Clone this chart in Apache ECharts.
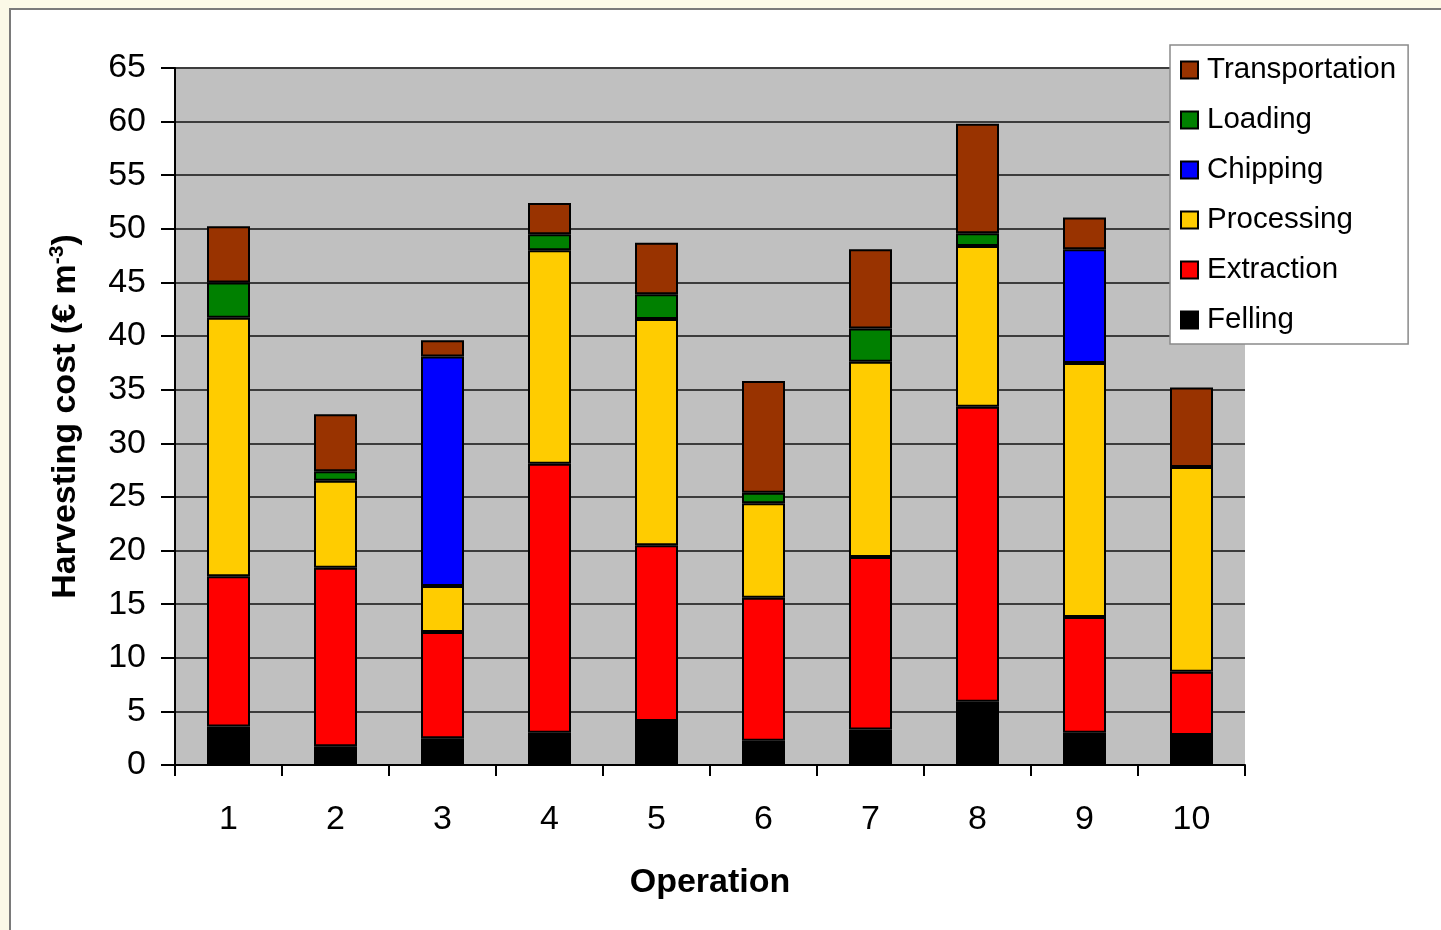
<!DOCTYPE html>
<html>
<head>
<meta charset="utf-8">
<script src="https://cdn.jsdelivr.net/npm/echarts@6/dist/echarts.min.js"></script>
<style>
  html, body { margin: 0; padding: 0; background: #fbf9e7; }
  #chart { width: 1441px; height: 930px; }
</style>
</head>
<body>
<div id="chart"></div>
<script>
// Harvesting cost per operation, stacked by work phase (€ per m³)
const operations = ['1', '2', '3', '4', '5', '6', '7', '8', '9', '10'];
const felling        = [3.6, 1.75, 2.5, 3.0, 4.1, 2.25, 3.3, 5.9, 3.0, 2.8];
const extraction     = [14.0, 16.65, 9.9, 25.1, 16.4, 13.35, 16.1, 27.5, 10.8, 5.9];
const processing     = [24.1, 8.1, 4.3, 19.9, 21.1, 8.8, 18.2, 15.0, 23.7, 19.1];
const chipping       = [0, 0, 21.4, 0, 0, 0, 0, 0, 10.6, 0];
const loading        = [3.3, 0.9, 0, 1.5, 2.3, 1.0, 3.1, 1.2, 0, 0];
const transportation = [5.25, 5.3, 1.5, 2.9, 4.8, 10.4, 7.4, 10.2, 2.95, 7.4];
const yTicks = { min: 0, max: 65, step: 5 };

const phases = [
  { name: 'Felling',        data: felling,        color: '#000000' },
  { name: 'Extraction',     data: extraction,     color: '#ff0000' },
  { name: 'Processing',     data: processing,     color: '#ffcc00' },
  { name: 'Chipping',       data: chipping,       color: '#0000ff' },
  { name: 'Loading',        data: loading,        color: '#008000' },
  { name: 'Transportation', data: transportation, color: '#993300' }
];

const FONT = '"Liberation Sans", Arial, sans-serif';

const chart = echarts.init(document.getElementById('chart'), null, { renderer: 'canvas' });

chart.setOption({
  backgroundColor: '#fbf9e7',
  animation: false,
  graphic: [{
    type: 'rect',
    z: -10,
    shape: { x: 10, y: 9, width: 1440, height: 930 },
    style: { fill: '#ffffff', stroke: '#7a7a7a', lineWidth: 2 }
  }],
  grid: {
    left: 175, top: 68, width: 1070, height: 697,
    show: true, backgroundColor: '#c0c0c0', borderWidth: 0
  },
  legend: {
    orient: 'vertical',
    left: 1170, top: 45,
    data: phases.map(p => p.name).reverse(),
    backgroundColor: '#ffffff',
    borderColor: '#8a8a8a', borderWidth: 1.5,
    padding: [10, 12, 9, 10],
    itemWidth: 17, itemHeight: 17, itemGap: 20,
    icon: 'rect',
    textStyle: { fontFamily: FONT, fontSize: 29.5, lineHeight: 30, color: '#000', padding: [0, 0, 0, 4] }
  },
  xAxis: {
    type: 'category',
    data: operations,
    name: 'Operation',
    nameLocation: 'middle',
    nameGap: 101,
    nameTextStyle: { fontFamily: FONT, fontSize: 34, fontWeight: 'bold', color: '#000' },
    axisLine: { lineStyle: { color: '#000', width: 2 } },
    axisTick: { show: true, length: 11, lineStyle: { color: '#000', width: 2 } },
    axisLabel: { fontFamily: FONT, fontSize: 34, color: '#000', margin: 38 }
  },
  yAxis: {
    type: 'value',
    min: yTicks.min, max: yTicks.max, interval: yTicks.step,
    name: '{t|Harvesting cost (€ m}{s|-3}{t|)}',
    nameLocation: 'middle',
    nameRotate: 90,
    nameGap: 91,
    nameTextStyle: {
      rich: {
        t: { fontFamily: FONT, fontSize: 34, fontWeight: 'bold', color: '#000' },
        s: { fontFamily: FONT, fontSize: 21, fontWeight: 'bold', color: '#000', verticalAlign: 'top', padding: [0, 0, 16, 0] }
      }
    },
    axisLine: { show: true, lineStyle: { color: '#000', width: 2 } },
    axisTick: { show: true, length: 14, lineStyle: { color: '#000', width: 2 } },
    axisLabel: { fontFamily: FONT, fontSize: 34, color: '#000', margin: 29 },
    splitLine: { show: true, lineStyle: { color: '#3c3c3c', width: 2 } }
  },
  series: phases.map(p => ({
    name: p.name,
    type: 'bar',
    stack: 'cost',
    barWidth: 43,
    data: p.data.map(v => (v === 0 ? null : v)),
    itemStyle: { color: p.color, borderColor: '#000', borderWidth: 2 }
  }))
});
</script>
</body>
</html>
